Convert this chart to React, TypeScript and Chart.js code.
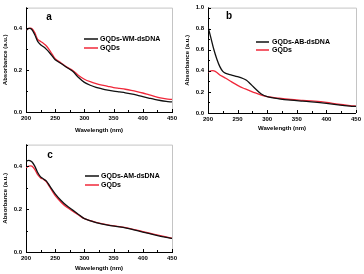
import React, { useEffect, useRef } from 'react';
import { Chart, registerables } from 'chart.js';
Chart.register(...registerables);

// ---- data ----
const xTickValues = [200, 250, 300, 350, 400, 450];

const wlA = [200, 205, 210, 215, 220, 225, 230, 235, 240, 245, 250, 260, 270, 280, 290, 300, 310, 320, 330, 340, 350, 360, 370, 380, 390, 400, 410, 420, 430, 440, 450];
const aWM = [0.39, 0.4, 0.395, 0.37, 0.338, 0.322, 0.312, 0.3, 0.285, 0.268, 0.25, 0.232, 0.213, 0.195, 0.165, 0.142, 0.128, 0.118, 0.111, 0.105, 0.1, 0.096, 0.092, 0.087, 0.081, 0.074, 0.067, 0.06, 0.055, 0.051, 0.048];
const aGQDs = [0.393, 0.4, 0.4, 0.38, 0.348, 0.338, 0.328, 0.316, 0.297, 0.276, 0.255, 0.235, 0.215, 0.199, 0.175, 0.157, 0.145, 0.136, 0.129, 0.123, 0.117, 0.113, 0.109, 0.104, 0.098, 0.091, 0.083, 0.075, 0.068, 0.063, 0.06];

const wlB = [200, 205, 210, 215, 220, 225, 230, 240, 250, 260, 265, 270, 280, 290, 300, 320, 340, 360, 380, 400, 420, 440, 450];
const bAB = [0.82, 0.71, 0.6, 0.51, 0.44, 0.395, 0.375, 0.36, 0.345, 0.325, 0.31, 0.285, 0.23, 0.18, 0.155, 0.135, 0.122, 0.113, 0.104, 0.092, 0.078, 0.066, 0.062];
const bGQDs = [0.39, 0.4, 0.4, 0.385, 0.36, 0.345, 0.33, 0.295, 0.262, 0.235, 0.225, 0.213, 0.19, 0.17, 0.155, 0.14, 0.128, 0.12, 0.112, 0.1, 0.083, 0.07, 0.065];

const wlC = [200, 205, 210, 215, 220, 225, 230, 235, 240, 250, 260, 270, 280, 290, 300, 320, 340, 360, 380, 400, 420, 440, 450];
const cAM = [0.423, 0.427, 0.42, 0.4, 0.37, 0.35, 0.34, 0.33, 0.31, 0.271, 0.24, 0.215, 0.195, 0.175, 0.155, 0.137, 0.125, 0.117, 0.107, 0.093, 0.08, 0.068, 0.063];
const cGQDs = [0.393, 0.4, 0.4, 0.385, 0.36, 0.345, 0.338, 0.327, 0.305, 0.262, 0.232, 0.208, 0.19, 0.172, 0.155, 0.138, 0.126, 0.118, 0.108, 0.095, 0.082, 0.07, 0.064];

const legendA = ['GQDs-WM-dsDNA', 'GQDs'];
const legendB = ['GQDs-AB-dsDNA', 'GQDs'];
const legendC = ['GQDs-AM-dsDNA', 'GQDs'];

const BLACK = '#111111';
const RED = '#f0283a';
const FONT = '"Liberation Sans", Arial, sans-serif';

type PanelProps = {
  left: number; top: number; width: number; height: number;
  plot: { l: number; r: number; t: number; b: number };
  yMax: number; yStep: number;
  wl: number[]; s1: number[]; s2: number[];
  labels: string[];
  letter: string; letterPos: [number, number];
  legend: { x1: number; x2: number; tx: number; y1: number; y2: number };
  xTitlePad: number;
};

function Panel(p: PanelProps) {
  const ref = useRef<HTMLCanvasElement | null>(null);
  useEffect(() => {
    if (!ref.current) return;
    const W = p.width, H = p.height;
    const decor = {
      id: 'decor',
      afterDraw(chart: any) {
        const ctx = chart.ctx as CanvasRenderingContext2D;
        const area = chart.chartArea;
        const xs = chart.scales.x, ys = chart.scales.y;
        ctx.save();
        // frame top/right
        ctx.strokeStyle = '#c4c4c4';
        ctx.lineWidth = 1;
        ctx.beginPath();
        ctx.moveTo(area.left, area.top + 0.5);
        ctx.lineTo(area.right + 0.5, area.top + 0.5);
        ctx.lineTo(area.right + 0.5, area.bottom);
        ctx.stroke();
        // inward ticks
        ctx.strokeStyle = '#000';
        ctx.beginPath();
        for (let v = 200; v <= 450; v += 25) {
          const x = Math.round(xs.getPixelForValue(v)) + 0.5;
          const len = v % 50 === 0 ? 3 : 2;
          ctx.moveTo(x, area.bottom);
          ctx.lineTo(x, area.bottom - len);
        }
        const half = p.yStep / 2;
        for (let i = 0; i * half <= p.yMax + 1e-9; i++) {
          const v = i * half;
          const y = Math.round(ys.getPixelForValue(v)) + 0.5;
          const len = i % 2 === 0 ? 3 : 2;
          ctx.moveTo(area.left, y);
          ctx.lineTo(area.left + len, y);
        }
        ctx.stroke();
        // panel letter
        ctx.fillStyle = '#000';
        ctx.font = `bold 10px ${FONT}`;
        ctx.textAlign = 'center';
        ctx.textBaseline = 'middle';
        ctx.fillText(p.letter, p.letterPos[0], p.letterPos[1]);
        // legend
        const lg = p.legend;
        ctx.lineWidth = 1.5;
        ctx.strokeStyle = BLACK;
        ctx.beginPath(); ctx.moveTo(lg.x1, lg.y1); ctx.lineTo(lg.x2, lg.y1); ctx.stroke();
        ctx.strokeStyle = RED;
        ctx.beginPath(); ctx.moveTo(lg.x1, lg.y2); ctx.lineTo(lg.x2, lg.y2); ctx.stroke();
        ctx.font = `bold 7px ${FONT}`;
        ctx.textAlign = 'left';
        ctx.fillStyle = '#000';
        ctx.fillText(p.labels[0], lg.tx, lg.y1);
        ctx.fillText(p.labels[1], lg.tx, lg.y2);
        ctx.restore();
      },
    };
    const chart = new Chart(ref.current, {
      type: 'line',
      data: {
        datasets: [
          { label: p.labels[0], data: p.wl.map((x, i) => ({ x, y: p.s1[i] })), borderColor: BLACK, borderWidth: 1.3, pointRadius: 0, tension: 0.3, fill: false },
          { label: p.labels[1], data: p.wl.map((x, i) => ({ x, y: p.s2[i] })), borderColor: RED, borderWidth: 1.3, pointRadius: 0, tension: 0.3, fill: false },
        ],
      },
      options: {
        responsive: false,
        animation: false,
        devicePixelRatio: 1,
        layout: { padding: { left: 0, top: p.plot.t, right: W - p.plot.r, bottom: 0 } },
        plugins: { legend: { display: false }, tooltip: { enabled: false } },
        scales: {
          x: {
            type: 'linear', min: 200, max: 450,
            afterFit: (s: any) => { s.height = H - p.plot.b; },
            afterBuildTicks: (s: any) => { s.ticks = xTickValues.map((v) => ({ value: v })); },
            grid: { display: false, drawTicks: false },
            border: { display: true, color: '#000', width: 1 },
            ticks: { font: { family: FONT, size: 6, weight: 'bold' }, color: '#000', padding: 3, maxRotation: 0 },
            title: { display: true, text: 'Wavelength (nm)', font: { family: FONT, size: 6, weight: 'bold' }, color: '#000', padding: { top: 0, bottom: p.xTitlePad } },
          },
          y: {
            type: 'linear', min: 0, max: p.yMax,
            afterFit: (s: any) => { s.width = p.plot.l; },
            grid: { display: false, drawTicks: false },
            border: { display: true, color: '#000', width: 1 },
            ticks: { stepSize: p.yStep, includeBounds: false, font: { family: FONT, size: 6, weight: 'bold' }, color: '#000', padding: 4, callback: (v: any) => Number(v).toFixed(1) },
            title: { display: true, text: 'Absorbance (a.u.)', font: { family: FONT, size: 6, weight: 'bold' }, color: '#000', padding: { top: 2, bottom: 0 } },
          },
        },
      },
      plugins: [decor],
    } as any);
    return () => chart.destroy();
  }, []);
  return (
    <canvas ref={ref} width={p.width} height={p.height}
      style={{ position: 'absolute', left: p.left, top: p.top, width: p.width, height: p.height }} />
  );
}

export default function App() {
  return (
    <div style={{ position: 'fixed', left: 0, top: 0, width: 364, height: 274, background: '#fff' }}>
      <Panel left={0} top={0} width={182} height={137} plot={{ l: 26, r: 172, t: 4, b: 112 }}
        yMax={0.5} yStep={0.2} wl={wlA} s1={aWM} s2={aGQDs} labels={legendA}
        letter="a" letterPos={[49, 17]} legend={{ x1: 84, x2: 98, tx: 100, y1: 39, y2: 48 }} xTitlePad={3} />
      <Panel left={182} top={0} width={182} height={137} plot={{ l: 26, r: 176, t: 3, b: 113 }}
        yMax={1.0} yStep={0.2} wl={wlB} s1={bAB} s2={bGQDs} labels={legendB}
        letter="b" letterPos={[47, 16]} legend={{ x1: 74, x2: 87, tx: 90, y1: 42, y2: 50 }} xTitlePad={5} />
      <Panel left={0} top={137} width={182} height={137} plot={{ l: 26, r: 172, t: 4, b: 115 }}
        yMax={0.5} yStep={0.2} wl={wlC} s1={cAM} s2={cGQDs} labels={legendC}
        letter="c" letterPos={[50, 18]} legend={{ x1: 85, x2: 99, tx: 101, y1: 39, y2: 48 }} xTitlePad={2} />
    </div>
  );
}
